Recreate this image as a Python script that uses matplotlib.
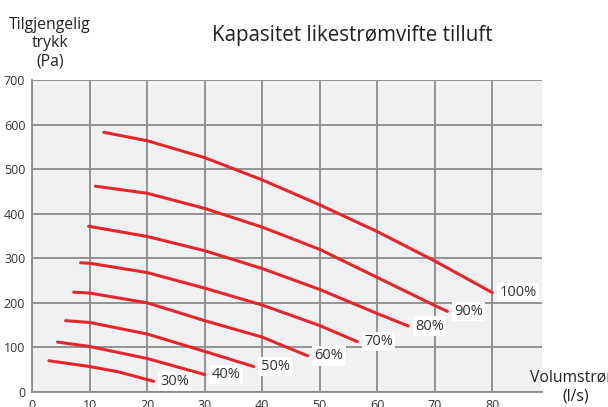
import matplotlib
matplotlib.use("Agg")
import matplotlib.pyplot as plt

plt.rcParams['font.family'] = ['Open Sans', 'DejaVu Sans']

# Fan curves: airflow (l/s) vs available pressure (Pa) per fan speed
speeds = ["30%", "40%", "50%", "60%", "70%", "80%", "90%", "100%"]

flow_30 = [2.9, 10, 15, 21.1]
pres_30 = [70, 57, 45, 24]

flow_40 = [4.4, 10, 20, 25, 30]
pres_40 = [112, 102, 75, 57, 39]

flow_50 = [5.8, 10, 20, 30, 38.5]
pres_50 = [160, 156, 130, 91, 57]

flow_60 = [7.2, 10, 20, 30, 40, 47.9]
pres_60 = [224, 222, 200, 160, 123, 81]

flow_70 = [8.4, 10, 20, 30, 40, 50, 56.5]
pres_70 = [290, 289, 268, 233, 195, 149, 113]

flow_80 = [9.8, 20, 30, 40, 50, 60, 65.4]
pres_80 = [372, 349, 317, 277, 230, 176, 148]

flow_90 = [11.0, 20, 30, 40, 50, 60, 70, 72.2]
pres_90 = [462, 446, 412, 370, 320, 257, 194, 181]

flow_100 = [12.45, 20, 30, 40, 50, 60, 70, 80]
pres_100 = [583, 564, 526, 476, 420, 360, 294, 223]

flows = [flow_30, flow_40, flow_50, flow_60, flow_70, flow_80, flow_90, flow_100]
pressures = [pres_30, pres_40, pres_50, pres_60, pres_70, pres_80, pres_90, pres_100]

x_ticks = [0, 10, 20, 30, 40, 50, 60, 70, 80]
y_ticks = [0, 100, 200, 300, 400, 500, 600, 700]

fig = plt.figure(figsize=(6.08, 4.07), dpi=100)
ax = fig.add_axes([0.053, 0.037, 0.838, 0.766])
ax.set_facecolor("#f0f1f3")

for fl, pr, lab in zip(flows, pressures, speeds):
    ax.plot(fl, pr, color="#e8262a", lw=2.2, solid_capstyle="round",
            solid_joinstyle="round", zorder=3)
    ax.annotate(lab, xy=(fl[-1], pr[-1]), xytext=(5, 0), textcoords="offset points",
                ha="left", va="center", fontsize=10.5, color="#333333",
                bbox=dict(boxstyle="square,pad=0.15", fc="white", ec="none"),
                zorder=4)

ax.set_xlim(0, 88.6)
ax.set_ylim(0, 700)
ax.set_xticks(x_ticks)
ax.set_yticks(y_ticks)
ax.grid(True, color="#8c8c8c", lw=1.3, zorder=1)
ax.set_axisbelow(True)
ax.tick_params(length=0, labelsize=9, colors="#333333", pad=5)
for side in ["top", "right"]:
    ax.spines[side].set_visible(False)
for side in ["left", "bottom"]:
    ax.spines[side].set_color("#8c8c8c")
    ax.spines[side].set_linewidth(1.3)

fig.text(0.579, 0.914, "Kapasitet likestrømvifte tilluft", ha="center", va="center",
         fontsize=14.8, color="#222222")
fig.text(0.082, 0.894, "Tilgjengelig\ntrykk\n(Pa)", ha="center", va="center",
         fontsize=11.3, color="#222222", linespacing=1.2)
fig.text(0.872, 0.049, "Volumstrøm\n(l/s)", ha="left", va="center",
         fontsize=11.3, color="#222222", linespacing=1.2, multialignment="center")

fig.savefig("out.png", dpi=100)
